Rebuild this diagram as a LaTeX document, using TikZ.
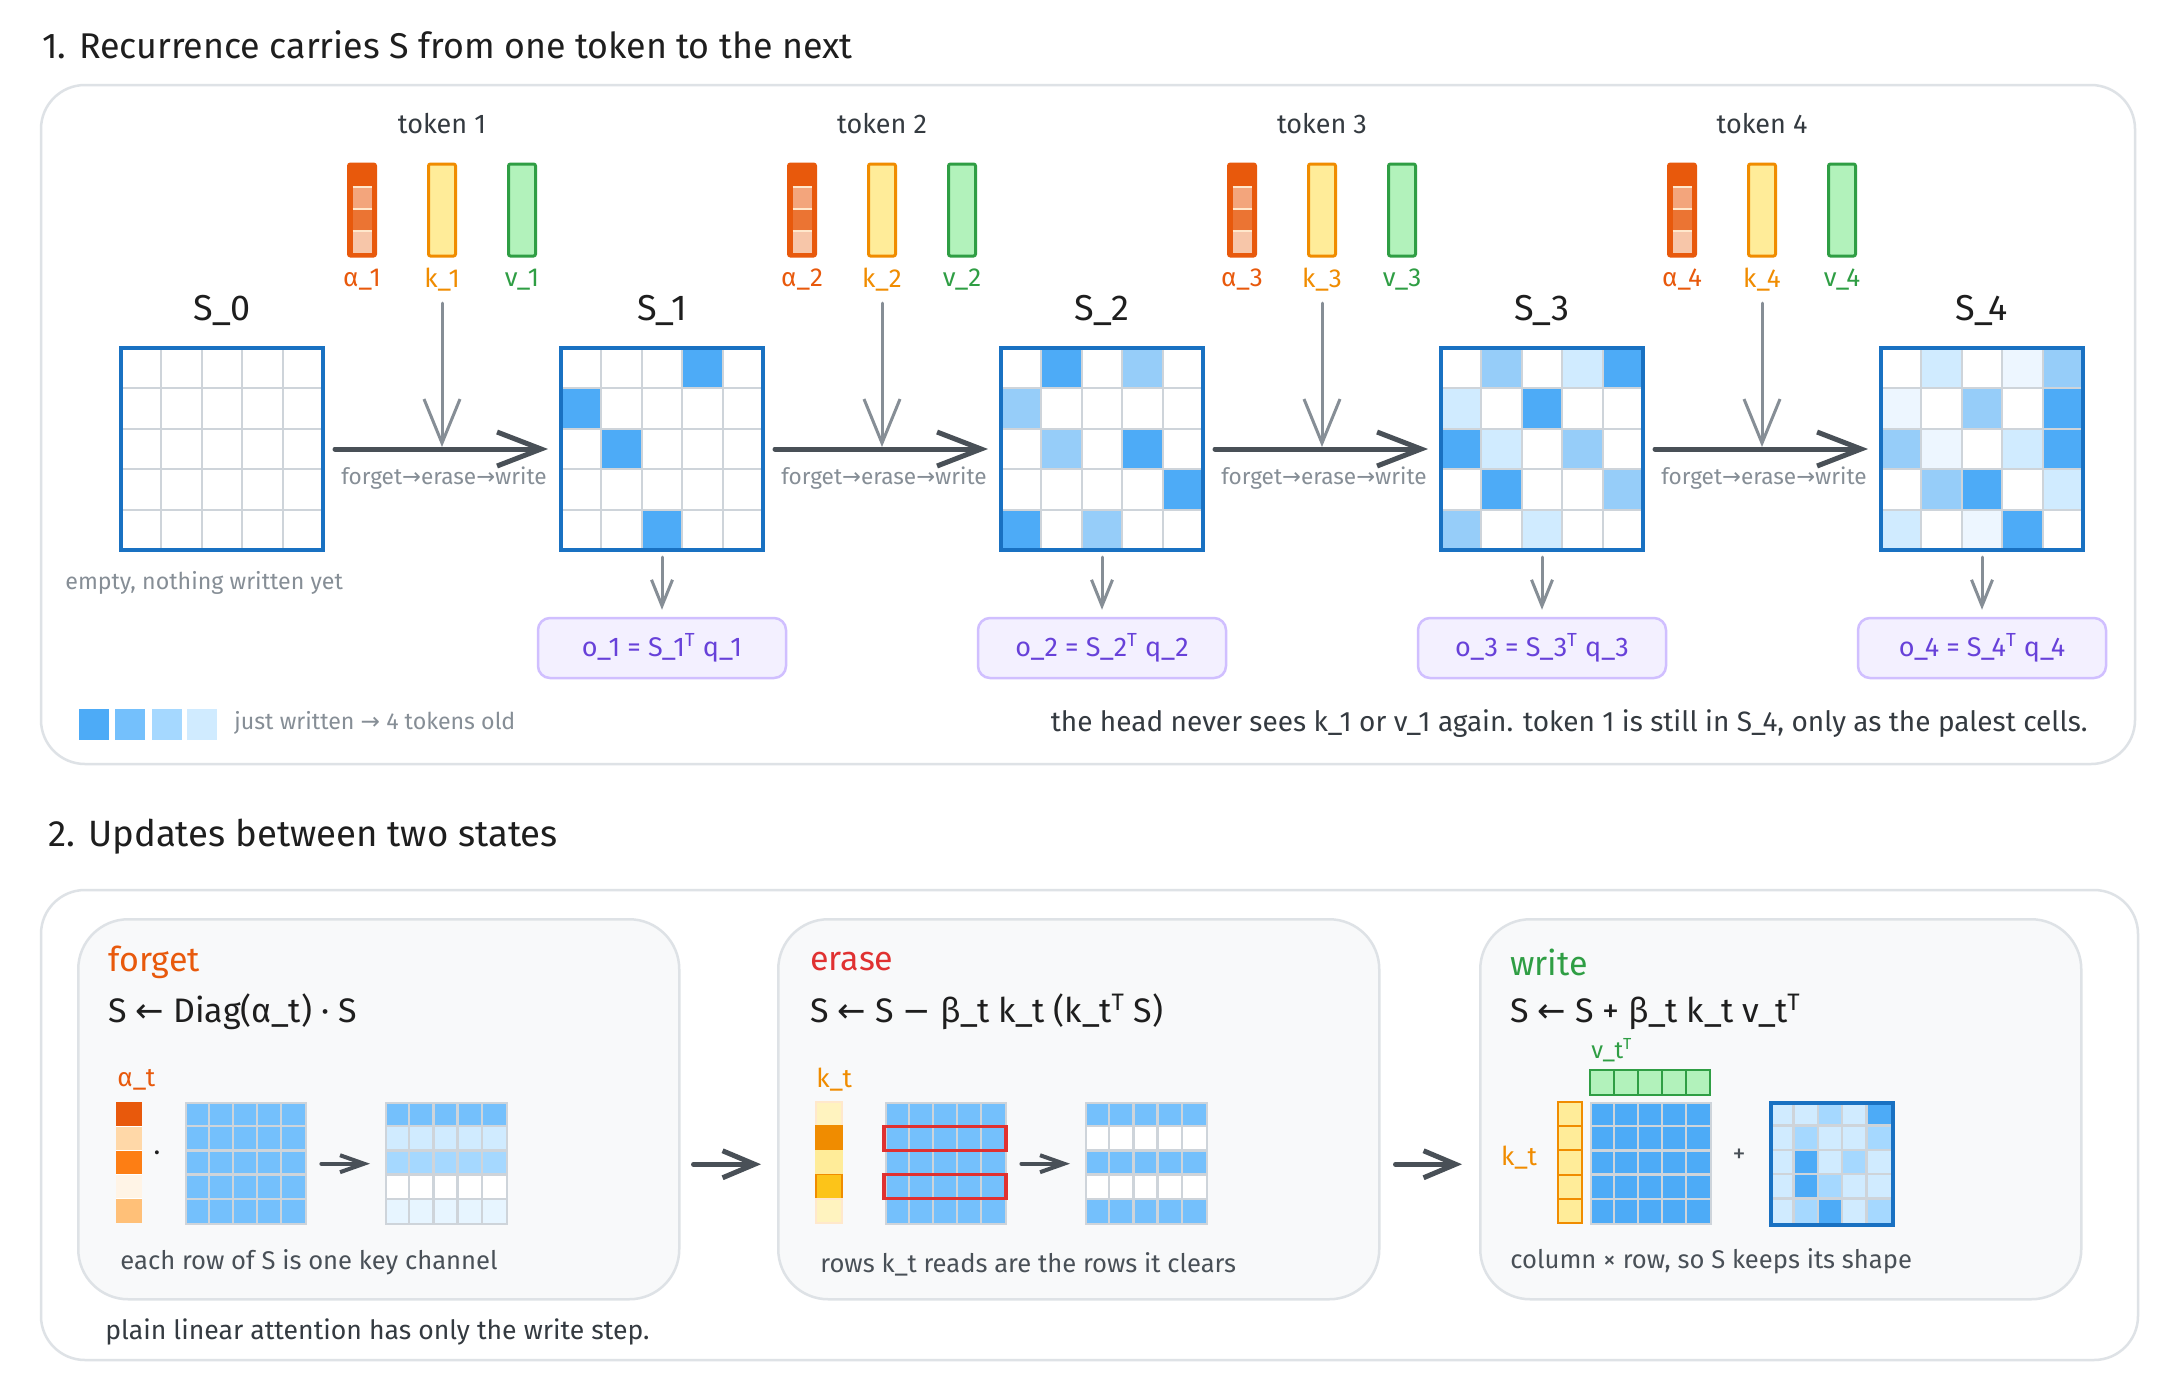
\documentclass[tikz,border=0pt]{standalone}
\usepackage{fontspec}
\setmainfont{Fira Sans}
\newfontfamily\symf{DejaVu Sans}
\usetikzlibrary{arrows.meta}
\definecolor{ink}{HTML}{1E1E1E}
\definecolor{dgrey}{HTML}{343A40}
\definecolor{agrey}{HTML}{495057}
\definecolor{mgrey}{HTML}{868E96}
\definecolor{pline}{HTML}{DEE2E6}
\definecolor{gridc}{HTML}{CED4DA}
\definecolor{sblue}{HTML}{1971C2}
\definecolor{cA}{HTML}{4DABF7}
\definecolor{cA1}{HTML}{96CDF9}
\definecolor{cA2}{HTML}{D0EBFF}
\definecolor{cA3}{HTML}{EDF6FF}
\definecolor{cB}{HTML}{74C0FC}
\definecolor{cC}{HTML}{A5D8FF}
\definecolor{cE}{HTML}{E7F5FF}
\definecolor{aor}{HTML}{E8590C}
\definecolor{aor2}{HTML}{F3A57C}
\definecolor{aor3}{HTML}{EB7433}
\definecolor{aor4}{HTML}{F7C6A9}
\definecolor{asep}{HTML}{FFE8CC}
\definecolor{fa1}{HTML}{FFD8A8}
\definecolor{fa2}{HTML}{FD7E14}
\definecolor{fa3}{HTML}{FFF4E6}
\definecolor{fa4}{HTML}{FFC078}
\definecolor{kor}{HTML}{F08C00}
\definecolor{kpale}{HTML}{FFF3BF}
\definecolor{kmid}{HTML}{FCC419}
\definecolor{vgr}{HTML}{2F9E44}
\definecolor{ered}{HTML}{E03131}
\definecolor{vio}{HTML}{6741D9}
\definecolor{vioL}{HTML}{D0BFFF}
\definecolor{vioF}{HTML}{F3F0FF}
\definecolor{subF}{HTML}{F8F9FA}
\definecolor{kfill}{HTML}{FFEC99}
\definecolor{vfill}{HTML}{B2F2BB}
\newcommand\myra{{\symf →}}
\newcommand\myla{{\symf ←}}
\newcommand\mymin{{\symf −}}
\newcommand\myT{\textsuperscript{T}}
\newcommand\myfs[1]{\fontsize{#1}{#1}\selectfont}
\tikzset{
  panel/.style={draw=pline, line width=1.25pt, rounded corners=22pt},
  subbox/.style={draw=pline, fill=subF, line width=1.25pt, rounded corners=25pt, inner sep=0, anchor=north west, minimum width=300.5pt, minimum height=190pt},
  smat/.style={draw=sblue, line width=2pt, minimum size=101pt, inner sep=0},
  gridln/.style={gridc, line width=1pt},
  gridsm/.style={gridc, line width=1.2pt},
  bigarrow/.style={draw=agrey, line width=2.5pt, line cap=round, -{Straight Barb[length=22pt,width=17pt]}},
  tokarrow/.style={draw=mgrey, line width=1.5pt, line cap=round, -{Straight Barb[length=22pt,width=18pt]}},
  outarrow/.style={draw=mgrey, line width=1.5pt, line cap=round, -{Straight Barb[length=13pt,width=10.5pt]}},
  secarrow/.style={draw=agrey, line width=2.5pt, line cap=round, -{Straight Barb[length=16pt,width=13.5pt]}},
  smallarrow/.style={draw=agrey, line width=2pt, line cap=round, -{Straight Barb[length=12pt,width=8.5pt]}},
  outbox/.style={draw=vioL, fill=vioF, line width=1.25pt, rounded corners=6pt, minimum width=124pt, minimum height=30pt, text=vio, font=\myfs{13.5}},
  toklbl/.style={text=dgrey, font=\myfs{13.5}, inner sep=0},
  slbl/.style={text=ink, font=\myfs{18}, inner sep=0},
  veclbl/.style={font=\myfs{13}, inner sep=0},
  flbl/.style={text=mgrey, font=\myfs{11.3}, inner sep=0},
  hdr/.style={font=\myfs{17}, anchor=west, inner sep=0},
  eqn/.style={font=\myfs{17}, text=ink, anchor=west, inner sep=0},
  sl/.style={font=\myfs{13}, anchor=west, inner sep=0},
  capt/.style={font=\myfs{12.8}, text=agrey, anchor=west, inner sep=0},
  bar/.style={minimum width=13.5pt, minimum height=46pt, inner sep=0, line width=1.5pt, rounded corners=1pt},
  vcell/.style={fill=vfill, draw=vgr, line width=1pt},
  kcell/.style={fill=kfill, draw=kor, line width=1pt},
}
\begin{document}
\begin{tikzpicture}[x=0.5pt,y=-0.5pt]
\useasboundingbox (0,0) rectangle (2158,1388);
\fill[white] (0,0) rectangle (2158,1388);

% ---------------- Section 1 ----------------
\node[anchor=west, font=\myfs{17.9}, text=ink, inner sep=0] (t1) at (42,45) {1. Recurrence carries S from one token to the next};
\draw[panel] (41,85) rectangle (2135,764);

% matrix cells
\foreach \r/\c/\col in {0/3/cA,1/0/cA,2/1/cA,4/2/cA}
  \fill[\col] ({561+\c*40.4},{348+\r*40.4}) rectangle ++(40.4,40.4);
\foreach \r/\c/\col in {0/1/cA,0/3/cA1,1/0/cA1,2/1/cA1,2/3/cA,3/4/cA,4/0/cA,4/2/cA1}
  \fill[\col] ({1001+\c*40.4},{348+\r*40.4}) rectangle ++(40.4,40.4);
\foreach \r/\c/\col in {0/1/cA1,0/3/cA2,0/4/cA,1/0/cA2,1/2/cA,2/0/cA,2/1/cA2,2/3/cA1,3/1/cA,3/4/cA1,4/0/cA1,4/2/cA2}
  \fill[\col] ({1441+\c*40.4},{348+\r*40.4}) rectangle ++(40.4,40.4);
\foreach \r/\c/\col in {0/1/cA2,0/3/cA3,0/4/cA1,1/0/cA3,1/2/cA1,1/4/cA,2/0/cA1,2/1/cA3,2/3/cA2,2/4/cA,3/1/cA1,3/2/cA,3/4/cA2,4/0/cA2,4/2/cA3,4/3/cA}
  \fill[\col] ({1881+\c*40.4},{348+\r*40.4}) rectangle ++(40.4,40.4);

\foreach \n in {0,...,4}{
  \pgfmathsetmacro\L{121+440*\n}
  \foreach \i in {1,...,4}{
    \draw[gridln] ({\L+\i*40.4},348) -- ++(0,202);
    \draw[gridln] (\L,{348+\i*40.4}) -- ++(202,0);
  }
  \node[smat] (S\n) at ({222+440*\n},449) {};
  \node[slbl] (SL\n) at ({222+440*\n},310) {S\_\n};
}

% tokens
\foreach \n in {1,...,4}{
  \pgfmathsetmacro\K{2+440*\n}
  \pgfmathsetmacro\A{\K-80}
  \pgfmathsetmacro\V{\K+80}
  \node[toklbl] (tok\n) at (\K,124) {token \n};
  \node[bar, fill=aor, draw=aor] (a\n) at (\A,210) {};
  \fill[aor2] ({\A-9.5},187) rectangle ({\A+9.5},209);
  \fill[aor3] ({\A-9.5},209) rectangle ({\A+9.5},231);
  \fill[aor4] ({\A-9.5},231) rectangle ({\A+9.5},253);
  \foreach \yy in {187,209,231}
    \draw[asep, line width=0.9pt] ({\A-9.5},\yy) -- ({\A+9.5},\yy);
  \node[bar, fill=kfill, draw=kor] (k\n) at (\K,210) {};
  \node[bar, fill=vfill, draw=vgr] (v\n) at (\V,210) {};
  \node[veclbl, text=aor] (al\n) at (\A,280) {α\_\n};
  \node[veclbl, text=kor] (kl\n) at (\K,280) {k\_\n};
  \node[veclbl, text=vgr] (vl\n) at (\V,280) {v\_\n};
}

% recurrence arrows
\foreach \n/\m in {0/1,1/2,2/3,3/4}{
  \draw[bigarrow] ([xshift=5pt]S\n.east) -- ([xshift=-5.5pt]S\m.west);
  \node[flbl] (fl\n) at ({444+440*\n},478) {forget\myra erase\myra write};
}
\foreach \n in {1,...,4}{
  \coordinate (ta\n) at ({2+440*\n},303);
  \coordinate (tb\n) at ({2+440*\n},447);
  \draw[tokarrow] (ta\n) -- (tb\n);
  \node[outbox] (o\n) at ({222+440*\n},648) {o\_\n{} = S\_\n\myT{} q\_\n};
  \draw[outarrow] ([yshift=-2.5pt]S\n.south) -- ([yshift=3.5pt]o\n.north);
}

\node[anchor=west, text=mgrey, font=\myfs{11.6}, inner sep=0] (empty) at (65,583) {empty, nothing written yet};
\foreach \x/\col in {79/cA,115/cB,152/cC,187/cA2}
  \fill[\col] (\x,709) rectangle ++(30,31);
\node[anchor=west, text=mgrey, font=\myfs{11.6}, inner sep=0] (leg) at (234,723) {just written \myra{} 4 tokens old};
\node[anchor=east, text=dgrey, font=\myfs{14}, inner sep=0] (note) at (2088,724) {the head never sees k\_1 or v\_1 again. token 1 is still in S\_4, only as the palest cells.};

% ---------------- Section 2 ----------------
\node[anchor=west, font=\myfs{18.3}, text=ink, inner sep=0] (t2) at (48,837) {2. Updates between two states};
\draw[panel] (41,890) rectangle (2138,1360);

\node[subbox] (F) at (77,918) {};
\node[subbox] (E) at (777,918) {};
\node[subbox] (W) at (1479,918) {};
\draw[secarrow] ([xshift=6.5pt,yshift=-27.5pt]F.east) -- ([xshift=-8pt,yshift=-27.5pt]E.west);
\draw[secarrow] ([xshift=7.5pt,yshift=-27.5pt]E.east) -- ([xshift=-8.5pt,yshift=-27.5pt]W.west);

% forget
\node[hdr, text=aor] (Fh) at (108,962) {forget};
\node[eqn] (Fe) at (108,1012) {S \myla{} Diag(α\_t) · S};
\node[sl, text=aor] (Fal) at (117,1080) {α\_t};
\foreach \r/\col in {0/aor,1/fa1,2/fa2,3/fa3,4/fa4}
  \fill[\col] (116,{1102+\r*24.2}) rectangle ++(26,24.2);
\foreach \r in {1,...,4}
  \draw[white, line width=0.6pt] (116,{1102+\r*24.2}) -- ++(26,0);
\node[font=\myfs{14}, text=ink, inner sep=0] (Fdot) at (157,1156) {·};
\fill[cB] (185,1102) rectangle ++(120,121);
\foreach \i in {1,...,4}{
  \draw[gridsm] ({185+\i*24},1102) -- ++(0,121);
  \draw[gridsm] (185,{1102+\i*24.2}) -- ++(120,0);
}
\node[draw=gridc, line width=1.2pt, minimum width=60pt, minimum height=60.5pt, inner sep=0, anchor=north west] (FA) at (185,1102) {};
\foreach \r/\col in {0/cB,1/cA2,2/cC,3/white,4/cE}
  \fill[\col] (385,{1102+\r*24.2}) rectangle ++(121,24.2);
\foreach \i in {1,...,4}{
  \draw[gridsm] ({385+\i*24.2},1102) -- ++(0,121);
  \draw[gridsm] (385,{1102+\i*24.2}) -- ++(121,0);
}
\node[draw=gridc, line width=1.2pt, minimum width=60.5pt, minimum height=60.5pt, inner sep=0, anchor=north west] (FB) at (385,1102) {};
\draw[smallarrow] ([xshift=7pt]FA.east) -- ([xshift=-7.5pt]FB.west);
\node[capt] (Fc) at (120,1262) {each row of S is one key channel};
\node[anchor=west, text=dgrey, font=\myfs{13.3}, inner sep=0] (plain) at (105,1332) {plain linear attention has only the write step.};

% erase
\node[hdr, text=ered] (Eh) at (810,962) {erase};
\node[eqn] (Ee) at (810,1012) {S \myla{} S \mymin{} β\_t k\_t (k\_t\myT{} S)};
\node[sl, text=kor] (Ekl) at (816,1080) {k\_t};
\foreach \r/\col/\bd in {0/kpale/asep,1/kor/kor,2/kfill/kfill,3/kmid/kor,4/kpale/asep}
  \draw[fill=\col, draw=\bd, line width=0.8pt] (816,{1102+\r*24.2}) rectangle ++(26,24.2);
\fill[cB] (885,1102) rectangle ++(120,121);
\foreach \i in {1,...,4}{
  \draw[gridsm] ({885+\i*24},1102) -- ++(0,121);
  \draw[gridsm] (885,{1102+\i*24.2}) -- ++(120,0);
}
\node[draw=gridc, line width=1.2pt, minimum width=60pt, minimum height=60.5pt, inner sep=0, anchor=north west] (EA) at (885,1102) {};
\draw[ered, line width=1.6pt] (884,1126.2) rectangle (1006,1150.4);
\draw[ered, line width=1.6pt] (884,1174.6) rectangle (1006,1198.8);
\foreach \r/\col in {0/cB,1/white,2/cB,3/white,4/cB}
  \fill[\col] (1085,{1102+\r*24.2}) rectangle ++(121,24.2);
\foreach \i in {1,...,4}{
  \draw[gridsm] ({1085+\i*24.2},1102) -- ++(0,121);
  \draw[gridsm] (1085,{1102+\i*24.2}) -- ++(121,0);
}
\node[draw=gridc, line width=1.2pt, minimum width=60.5pt, minimum height=60.5pt, inner sep=0, anchor=north west] (EB) at (1085,1102) {};
\draw[smallarrow] ([xshift=7pt]EA.east) -- ([xshift=-7.5pt]EB.west);
\node[capt] (Ec) at (820,1264) {rows k\_t reads are the rows it clears};

% write
\node[hdr, text=vgr] (Wh) at (1510,962) {write};
\node[eqn] (We) at (1510,1012) {S \myla{} S + β\_t k\_t v\_t\myT};
\node[sl, text=vgr, font=\myfs{12}] (Wvl) at (1591,1050) {v\_t\myT};
\node[font=\myfs{13}, text=kor, inner sep=0] (Wkl) at (1519,1158) {k\_t};
\foreach \i in {0,...,4}
  \draw[vcell] ({1590+\i*24},1070) rectangle ++(24,25);
\foreach \i in {0,...,4}
  \draw[kcell] (1558,{1102+\i*24.2}) rectangle ++(24,24.2);
\fill[cA] (1590,1102) rectangle ++(120,121);
\foreach \i in {1,...,4}{
  \draw[gridsm] ({1590+\i*24},1102) -- ++(0,121);
  \draw[gridsm] (1590,{1102+\i*24.2}) -- ++(120,0);
}
\node[draw=gridc, line width=1.2pt, minimum width=60pt, minimum height=60.5pt, inner sep=0, anchor=north west] (WA) at (1590,1102) {};
\node[font=\myfs{13}, text=agrey, inner sep=0] (Wplus) at (1739,1156) {+};
\fill[cA2] (1769,1101) rectangle ++(122,122);
\foreach \r/\c/\col in {0/2/cC,0/4/cA,1/1/cC,1/4/cC,2/1/cA,2/3/cC,3/1/cA,3/2/cC,4/1/cC,4/2/cA,4/4/cC}
  \fill[\col] ({1769+\c*24.4},{1101+\r*24.4}) rectangle ++(24.4,24.4);
\foreach \i in {1,...,4}{
  \draw[gridsm] ({1769+\i*24.4},1101) -- ++(0,122);
  \draw[gridsm] (1769,{1101+\i*24.4}) -- ++(122,0);
}
\node[draw=sblue, line width=2pt, minimum size=61pt, inner sep=0, anchor=north west] (WR) at (1769,1101) {};
\node[capt] (Wc) at (1510,1261) {column × row, so S keeps its shape};
\end{tikzpicture}
\end{document}
